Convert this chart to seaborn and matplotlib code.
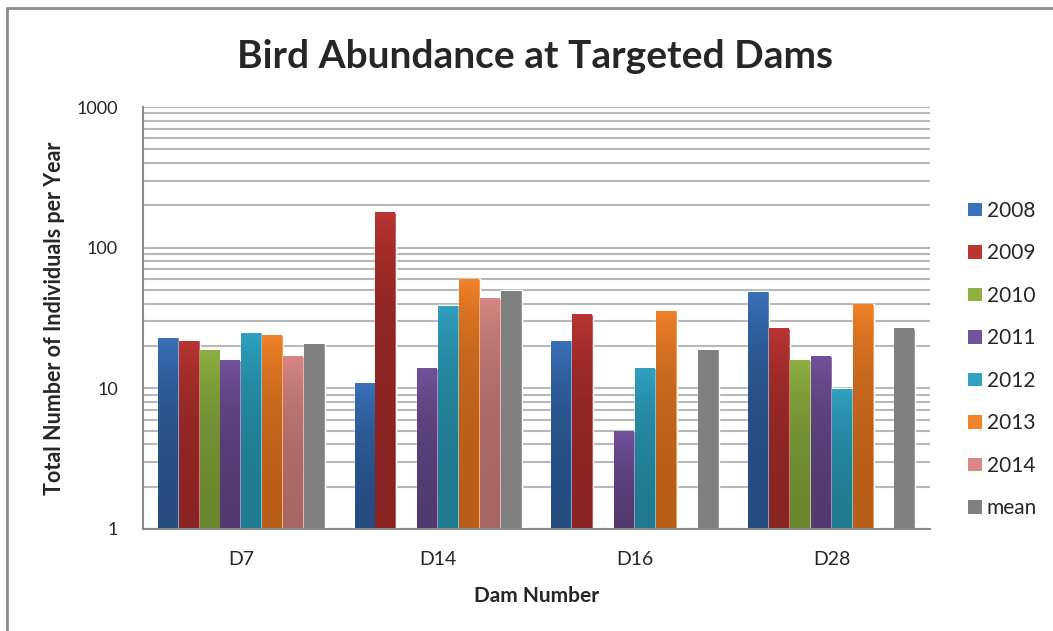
import numpy as np
import pandas as pd
import matplotlib.pyplot as plt
import matplotlib.colors as mcolors
from matplotlib.lines import Line2D
from matplotlib.ticker import LogLocator, NullFormatter, FixedLocator
import seaborn as sns

# values (NaN = no bar)
dams = ['D7', 'D14', 'D16', 'D28']
years = ['2008', '2009', '2010', '2011', '2012', '2013', '2014', 'mean']
v2008 = [23, 11, 22, 49]
v2009 = [22, 180, 34, 27]
v2010 = [19, np.nan, np.nan, 16]
v2011 = [16, 14, 5, 17]
v2012 = [25, 39, 14, 10]
v2013 = [24, 60, 36, 40]
v2014 = [17, 44, np.nan, np.nan]
vmean = [21, 50, 19, 27]

series = [v2008, v2009, v2010, v2011, v2012, v2013, v2014, vmean]
rows = []
for yr, vals in zip(years, series):
    for dam, v in zip(dams, vals):
        rows.append({'dam': dam, 'year': yr, 'count': v})
df = pd.DataFrame(rows)

# top / bottom shades for the Excel-like gradient
tops = ['#3a72bc', '#bb3533', '#8fb141', '#73529c', '#31a2c2', '#f2832a', '#d98884', '#808080']
bottoms = ['#264c80', '#8a2422', '#6a8730', '#523a6f', '#207a90', '#b95e18', '#a66763', '#808080']
palette = dict(zip(years, tops))

sns.set_style('white')
plt.rcParams['font.family'] = ['Lato', 'DejaVu Sans']

fig = plt.figure(figsize=(10.53, 6.31), dpi=100)
ax = fig.add_axes([0.1358, 0.1617, 0.7475, 0.6687])

sns.barplot(data=df, x='dam', y='count', hue='year', order=dams, hue_order=years,
            palette=palette, width=0.85, saturation=1, ax=ax, legend=True)
ax.set_yscale('log')
ax.set_ylim(1, 1000)

# gradient fill for each bar
for container, top, bot in zip(ax.containers, tops, bottoms):
    cmap = mcolors.LinearSegmentedColormap.from_list('g', [bot, top])
    grad = np.linspace(0, 1, 256).reshape(-1, 1)
    for bar in container:
        h = bar.get_height()
        if not np.isfinite(h) or h <= 1:
            continue
        x0 = bar.get_x()
        w = bar.get_width()
        im = ax.imshow(grad, cmap=cmap, origin='lower', aspect='auto',
                       extent=(x0, x0 + w, 1, h), zorder=bar.get_zorder() + 0.1,
                       interpolation='bilinear')
        im.set_clip_path(bar)

ax.set_xlim(-0.5, len(dams) - 0.5)
ax.set_ylim(1, 1000)

# gridlines at every major and minor log tick
ax.yaxis.set_major_locator(FixedLocator([1, 10, 100, 1000]))
ax.yaxis.set_minor_locator(LogLocator(base=10, subs=np.arange(2, 10)))
ax.yaxis.set_minor_formatter(NullFormatter())
ax.set_yticklabels(['1', '10', '100', '1000'])
ax.grid(axis='y', which='both', color='#b8b8b8', linewidth=1.5)
ax.set_axisbelow(True)

for s in ['top', 'right']:
    ax.spines[s].set_visible(False)
for s in ['left', 'bottom']:
    ax.spines[s].set_color('#8c8c8c')
    ax.spines[s].set_linewidth(1.5)

ax.tick_params(axis='y', which='major', direction='out', length=6, width=1.5,
               color='#8c8c8c', labelsize=13, pad=12)
ax.tick_params(axis='y', which='minor', direction='out', length=4, width=1.5,
               color='#8c8c8c')
# category ticks sit between groups
ax.set_xticks(np.arange(len(dams)))
ax.set_xticklabels(dams)
ax.xaxis.set_minor_locator(FixedLocator(np.arange(len(dams) + 1) - 0.5))
ax.tick_params(axis='x', which='major', length=0, labelsize=14, pad=16)
ax.tick_params(axis='x', which='minor', direction='out', length=6, width=1.5,
               color='#8c8c8c')

ax.set_xlabel('Dam Number', fontsize=15, fontweight='bold', labelpad=13)
ax.set_ylabel('Total Number of Individuals per Year', fontsize=15.5,
              fontweight='bold', labelpad=8.5)

fig.suptitle('Bird Abundance at Targeted Dams', x=0.508, y=0.938,
             fontsize=28, fontweight='bold')

leg = ax.legend(loc='center left', bbox_to_anchor=(0.919, 0.43),
                bbox_transform=fig.transFigure, frameon=False,
                fontsize=15, handlelength=0.67, handleheight=0.63,
                handletextpad=0.25, labelspacing=1.08, borderaxespad=0, borderpad=0)
for handle in leg.legend_handles:
    handle.set_edgecolor('none')

# chart frame: only the top and left edges show in the original
fig.add_artist(Line2D([0.0066, 1.0], [0.9873, 0.9873], transform=fig.transFigure,
                      color='#8c8c8c', linewidth=2))
fig.add_artist(Line2D([0.0066, 0.0066], [0.0, 0.9873], transform=fig.transFigure,
                      color='#8c8c8c', linewidth=2))

plt.savefig('out.png', dpi=100)
